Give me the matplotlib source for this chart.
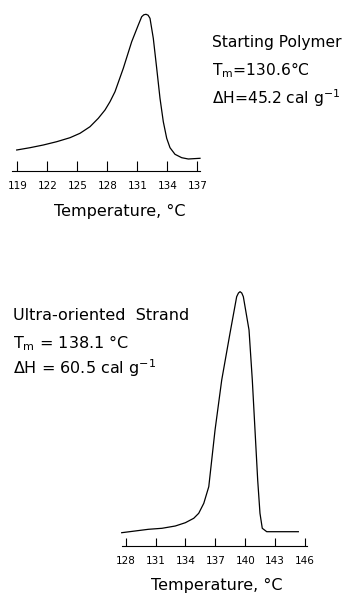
import matplotlib
matplotlib.use("Agg")
import matplotlib.pyplot as plt

# curva DSC do polímero inicial (temperatura em °C, sinal em unidades arbitrárias)
temp_inicial = [118.94, 120.27, 121.6, 122.94, 124.27, 125.27, 126.27, 127.1, 127.77,
                128.27, 128.77, 129.6, 130.44, 131.1, 131.44, 131.65, 131.87, 132.08,
                132.27, 132.6, 132.94, 133.27, 133.6, 133.94, 134.27, 134.77, 135.44,
                136.1, 137.27]
sinal_inicial = [21, 23.3, 26, 29.3, 33.3, 37.7, 44.3, 52.7, 61,
                 69.3, 79.3, 102.7, 129.3, 146, 154.3, 156.2, 156.7, 155.8,
                 152.7, 132.7, 102.7, 72.7, 49.3, 32.7, 23.3, 16.7, 13.3,
                 12, 12.7]

# curva DSC do fio ultra-orientado
temp_orientado = [127.6, 128.94, 130.28, 131.64, 132.98, 133.99, 134.83, 135.33, 135.84,
                  136.34, 136.97, 137.64, 138.47, 139.14, 139.32, 139.48, 139.65, 139.81,
                  140.38, 140.71, 140.98, 141.25, 141.48, 141.71, 142.16, 145.33]
sinal_orientado = [13.3, 15, 16.7, 17.7, 20, 23.3, 27.7, 32.7, 42.7,
                   59.3, 116, 166, 212.7, 249.3, 253, 254.3, 253, 249.3,
                   216, 166, 116, 66, 32.7, 17.7, 14.3, 14.3]

ticks_inicial = [119, 122, 125, 128, 131, 134, 137]
ticks_orientado = [128, 131, 134, 137, 140, 143, 146]

texto_inicial = ["Starting Polymer", r"T$_\mathrm{m}$=130.6°C", r"ΔH=45.2 cal g$^{-1}$"]
texto_orientado = ["Ultra-oriented  Strand", r"T$_\mathrm{m}$ = 138.1 °C", r"ΔH = 60.5 cal g$^{-1}$"]

W, H = 349, 596
fig = plt.figure(figsize=(W / 100, H / 100), dpi=100)


def caixa(esq, topo, dir, base):
    # converte uma caixa em pixels para fração da figura
    return [esq / W, 1 - base / H, (dir - esq) / W, (base - topo) / H]


def painel(rect, temps, sinal, ticks, xlim, ylim, tam_tick):
    ax = fig.add_axes(rect)
    ax.plot(temps, sinal, color="black", linewidth=0.9, clip_on=False,
            solid_joinstyle="round")
    ax.set_xlim(*xlim)
    ax.set_ylim(*ylim)
    for lado in ["top", "left", "right"]:
        ax.spines[lado].set_visible(False)
    ax.spines["bottom"].set_linewidth(0.8)
    ax.set_yticks([])
    ax.set_xticks(ticks)
    ax.tick_params(axis="x", direction="in", length=tam_tick, width=0.8,
                   pad=7, labelsize=7.5)
    ax.patch.set_alpha(0)
    return ax


painel(caixa(11.7, 11, 200, 171), temp_inicial, sinal_inicial, ticks_inicial,
       (118.44, 137.27), (0, 160), 7)
painel(caixa(122, 286, 307, 546), temp_orientado, sinal_orientado, ticks_orientado,
       (127.63, 146.2), (0, 260), 6)

fig.text(120 / W, 1 - 211 / H, "Temperature, °C", ha="center", va="center", fontsize=11.5)
fig.text(217 / W, 1 - 585 / H, "Temperature, °C", ha="center", va="center", fontsize=11.5)

for t, y in zip(texto_inicial, [42, 70, 98]):
    fig.text(212 / W, 1 - y / H, t, ha="left", va="center", fontsize=11.2)
for t, y in zip(texto_orientado, [315, 343, 368]):
    fig.text(13 / W, 1 - y / H, t, ha="left", va="center", fontsize=11.5)

fig.savefig("out.png", dpi=100)
